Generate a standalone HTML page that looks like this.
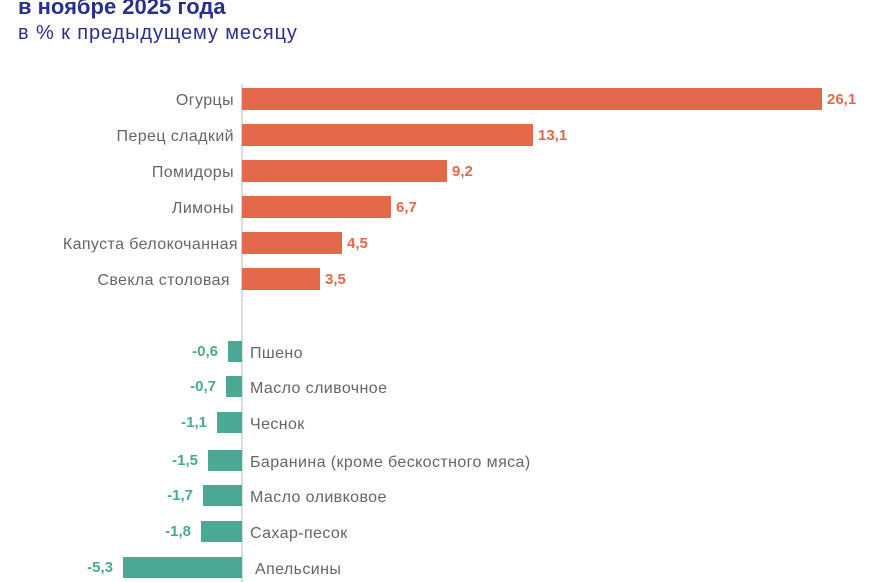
<!DOCTYPE html>
<html><head><meta charset="utf-8"><style>
html,body{margin:0;padding:0;background:#fff;width:873px;height:582px;overflow:hidden}
text{font-family:"Liberation Sans",Arial,sans-serif}
</style></head><body>
<svg width="873" height="582" xmlns="http://www.w3.org/2000/svg">
<text x="18" y="14" font-size="22" font-weight="bold" fill="#2b2f8c">в ноябре 2025 года</text>
<text x="18" y="39" font-size="20" fill="#2b2f8c" letter-spacing="0.9">в % к предыдущему месяцу</text>
<line x1="242" y1="84" x2="242" y2="582" stroke="#d0d0d0" stroke-width="1.5"/>
<g fill="#e4694a">
<rect x="242" y="88" width="580" height="22"/>
<rect x="242" y="124" width="291" height="22"/>
<rect x="242" y="160" width="205" height="22"/>
<rect x="242" y="196" width="149" height="22"/>
<rect x="242" y="232" width="100" height="22"/>
<rect x="242" y="268" width="78" height="22"/>
</g>
<g font-size="15" fill="#e4694a" font-weight="bold">
<text x="827" y="104">26,1</text>
<text x="538" y="140">13,1</text>
<text x="452" y="176">9,2</text>
<text x="396" y="212">6,7</text>
<text x="347" y="248">4,5</text>
<text x="325" y="284">3,5</text>
</g>
<g font-size="16" fill="#666" text-anchor="end" letter-spacing="0.4">
<text x="234" y="105">Огурцы</text>
<text x="234" y="141">Перец сладкий</text>
<text x="234" y="177">Помидоры</text>
<text x="234" y="213">Лимоны</text>
<text x="238" y="249">Капуста белокочанная</text>
<text x="230" y="285">Свекла столовая</text>
</g>
<g fill="#4aa894">
<rect x="228" y="341" width="14" height="21"/>
<rect x="226" y="376" width="16" height="21"/>
<rect x="217" y="412" width="25" height="21"/>
<rect x="208" y="450" width="34" height="21"/>
<rect x="203" y="485" width="39" height="21"/>
<rect x="201" y="521" width="41" height="21"/>
<rect x="123" y="557" width="119" height="21"/>
</g>
<g font-size="15" fill="#4aa894" font-weight="bold" text-anchor="end">
<text x="218" y="356">-0,6</text>
<text x="216" y="391">-0,7</text>
<text x="207" y="427">-1,1</text>
<text x="198" y="465">-1,5</text>
<text x="193" y="500">-1,7</text>
<text x="191" y="536">-1,8</text>
<text x="113" y="572">-5,3</text>
</g>
<g font-size="16" fill="#666" letter-spacing="0.4">
<text x="250" y="358">Пшено</text>
<text x="250" y="393">Масло сливочное</text>
<text x="250" y="429">Чеснок</text>
<text x="250" y="467">Баранина (кроме бескостного мяса)</text>
<text x="250" y="502">Масло оливковое</text>
<text x="250" y="538">Сахар-песок</text>
<text x="255" y="574">Апельсины</text>
</g>
</svg>
</body></html>
